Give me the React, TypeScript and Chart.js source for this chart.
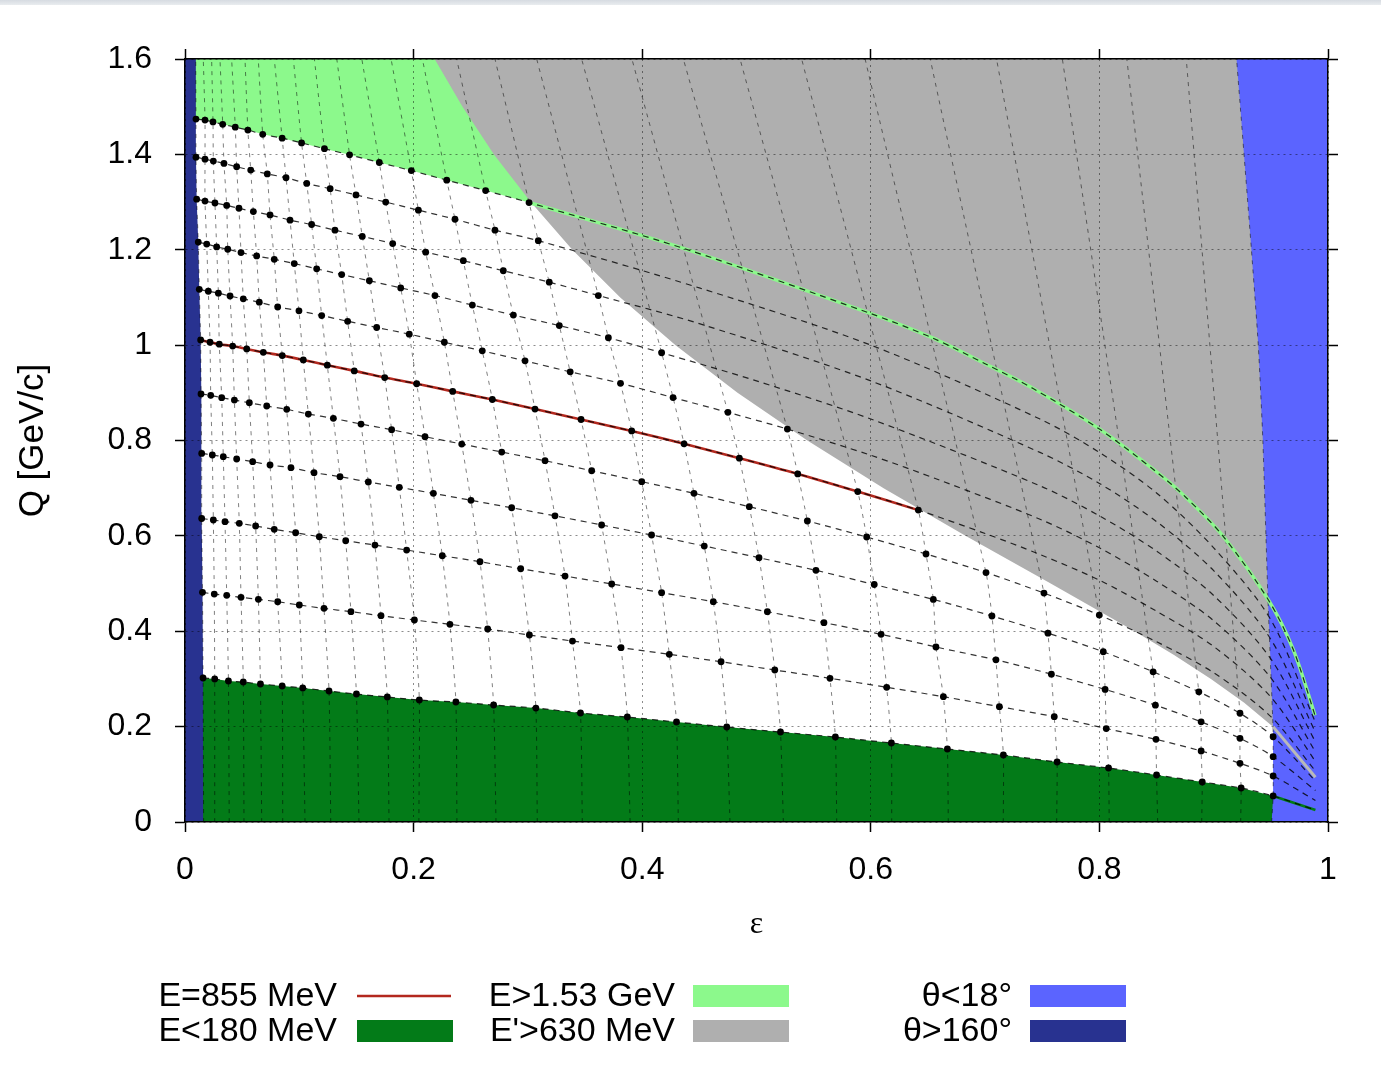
import React, { useEffect, useRef } from "react";
import { Chart, registerables } from "chart.js";

Chart.register(...registerables);

type Pt = [number, number];

// axis ticks
const X_TICKS = [0, 0.2, 0.4, 0.6, 0.8, 1];
const Y_TICKS = [0, 0.2, 0.4, 0.6, 0.8, 1, 1.2, 1.4, 1.6];

// Iso-energy curves: dots (ε, Q [GeV/c]) where each curve crosses the
// constant-angle lines (θ = 160°, 155°, … down to 18°).
const DOTS_180: Pt[] = [[0.0158,0.302],[0.026,0.2999],[0.038,0.2957],[0.051,0.2936],[0.066,0.2894],[0.085,0.2852],[0.103,0.281],[0.126,0.2747],[0.15,0.2684],[0.177,0.2621],[0.205,0.2558],[0.237,0.2516],[0.27,0.2453],[0.307,0.239],[0.346,0.2286],[0.387,0.2202],[0.43,0.2097],[0.474,0.1992],[0.521,0.1887],[0.569,0.1782],[0.618,0.1657],[0.667,0.1531],[0.716,0.1405],[0.763,0.1258],[0.808,0.1132],[0.85,0.0986],[0.89,0.0839],[0.924,0.0713],[0.952,0.0545]];
const DOTS_315: Pt[] = [[0.0153,0.4816],[0.0256,0.478],[0.0365,0.4753],[0.049,0.4711],[0.0642,0.4669],[0.0811,0.4619],[0.1,0.455],[0.1216,0.448],[0.1452,0.441],[0.1715,0.4326],[0.2007,0.4236],[0.2318,0.4145],[0.2648,0.4047],[0.3013,0.3921],[0.339,0.3795],[0.3815,0.3655],[0.4237,0.3516],[0.469,0.336],[0.516,0.3187],[0.5643,0.3013],[0.6139,0.2824],[0.6635,0.2628],[0.7125,0.2418],[0.7605,0.2208],[0.806,0.196],[0.8495,0.1733],[0.889,0.1489],[0.923,0.123],[0.952,0.0965]];
const DOTS_450: Pt[] = [[0.0146,0.6364],[0.0248,0.6333],[0.035,0.6298],[0.0475,0.6263],[0.0618,0.6207],[0.0781,0.6137],[0.0968,0.6066],[0.1175,0.5982],[0.1406,0.5898],[0.1662,0.5808],[0.1939,0.5703],[0.2251,0.5583],[0.2581,0.5457],[0.2937,0.5311],[0.3325,0.5158],[0.3733,0.4991],[0.417,0.4809],[0.4622,0.462],[0.5095,0.441],[0.559,0.418],[0.609,0.3935],[0.657,0.367],[0.7095,0.34],[0.758,0.31],[0.805,0.278],[0.849,0.245],[0.889,0.21],[0.923,0.1755],[0.952,0.137]];
const DOTS_585: Pt[] = [[0.0146,0.773],[0.0239,0.7696],[0.0335,0.766],[0.0452,0.7612],[0.0592,0.7556],[0.0744,0.7486],[0.0927,0.743],[0.1129,0.7326],[0.1356,0.7242],[0.1604,0.713],[0.1875,0.7018],[0.2173,0.6892],[0.2502,0.6746],[0.2858,0.659],[0.3237,0.642],[0.3645,0.6228],[0.4082,0.6018],[0.4543,0.5787],[0.5022,0.5542],[0.552,0.5277],[0.603,0.498],[0.6547,0.4668],[0.706,0.432],[0.755,0.396],[0.8034,0.357],[0.847,0.315],[0.887,0.273],[0.923,0.228],[0.952,0.179]];
const DOTS_720: Pt[] = [[0.014,0.8975],[0.0225,0.8947],[0.0321,0.8897],[0.0432,0.8848],[0.0563,0.8792],[0.0715,0.8723],[0.089,0.8653],[0.1079,0.8555],[0.1298,0.8464],[0.154,0.8345],[0.1808,0.8226],[0.21,0.8079],[0.2421,0.7926],[0.2771,0.7758],[0.315,0.7576],[0.3558,0.7366],[0.3996,0.7136],[0.4453,0.6892],[0.4937,0.6612],[0.5445,0.6312],[0.5964,0.5976],[0.6483,0.562],[0.7008,0.523],[0.7515,0.48],[0.7999,0.434]];
const DOTS_855: Pt[] = [[0.0137,1.011],[0.0219,1.006],[0.03,1.002],[0.0417,0.998],[0.054,0.992],[0.0685,0.985],[0.0851,0.978],[0.1035,0.969],[0.1245,0.958],[0.1481,0.946],[0.1747,0.932],[0.2027,0.919],[0.2342,0.903],[0.2689,0.886],[0.3062,0.866],[0.3465,0.844],[0.3908,0.82],[0.4366,0.793],[0.485,0.763],[0.5361,0.73],[0.5886,0.693],[0.6416,0.654]];
const DOTS_990: Pt[] = [[0.0125,1.117],[0.0204,1.113],[0.0292,1.109],[0.0394,1.103],[0.051,1.097],[0.065,1.09],[0.0811,1.08],[0.0997,1.072],[0.1196,1.062],[0.1423,1.05],[0.1677,1.037],[0.1962,1.023],[0.2269,1.006],[0.2601,0.988],[0.2975,0.967],[0.337,0.944],[0.381,0.92],[0.427,0.89],[0.475,0.859],[0.527,0.824]];
const DOTS_1125: Pt[] = [[0.0116,1.216],[0.019,1.212],[0.0277,1.206],[0.0374,1.201],[0.049,1.194],[0.0627,1.187],[0.0781,1.18],[0.0956,1.171],[0.1152,1.16],[0.1371,1.148],[0.1613,1.135],[0.1887,1.12],[0.2187,1.104],[0.2514,1.084],[0.2873,1.063],[0.3275,1.041],[0.3704,1.0155],[0.417,0.984]];
const DOTS_1260: Pt[] = [[0.0102,1.306],[0.0175,1.302],[0.0262,1.298],[0.0365,1.293],[0.0472,1.287],[0.0598,1.28],[0.0744,1.273],[0.0919,1.262],[0.1108,1.253],[0.1312,1.241],[0.1551,1.228],[0.1817,1.213],[0.2106,1.195],[0.2435,1.177],[0.2785,1.156],[0.3187,1.132],[0.3616,1.104]];
const DOTS_1395: Pt[] = [[0.0096,1.394],[0.0175,1.39],[0.0248,1.386],[0.0341,1.381],[0.0452,1.374],[0.0575,1.367],[0.072,1.359],[0.0884,1.351],[0.1065,1.339],[0.127,1.328],[0.1496,1.315],[0.1756,1.3],[0.2042,1.283],[0.2362,1.264],[0.2712,1.241],[0.3091,1.219]];
const DOTS_1530: Pt[] = [[0.0096,1.474],[0.0175,1.472],[0.0245,1.468],[0.033,1.463],[0.044,1.457],[0.055,1.451],[0.068,1.442],[0.085,1.434],[0.102,1.424],[0.122,1.412],[0.144,1.399],[0.17,1.383],[0.198,1.366],[0.229,1.346],[0.263,1.324],[0.301,1.299]];

// continuation of each curve past its last dot (through the E' and θ<18° zones)
const TAIL_180: Pt[] = [[0.989,0.025]];
const TAIL_315: Pt[] = [[0.989,0.045]];
const TAIL_450: Pt[] = [[0.989,0.066]];
const TAIL_585: Pt[] = [[0.989,0.086]];
const TAIL_720: Pt[] = [[0.85,0.378],[0.9,0.313],[0.95,0.221],[0.989,0.107]];
const TAIL_855: Pt[] = [[0.7,0.605],[0.748,0.561],[0.8,0.507],[0.85,0.442],[0.9,0.368],[0.95,0.262],[0.989,0.127]];
const TAIL_990: Pt[] = [[0.6,0.769],[0.66,0.717],[0.748,0.635],[0.8,0.575],[0.85,0.505],[0.9,0.422],[0.95,0.302],[0.989,0.147]];
const TAIL_1125: Pt[] = [[0.5,0.925],[0.6,0.845],[0.748,0.705],[0.8,0.642],[0.85,0.568],[0.9,0.475],[0.95,0.342],[0.989,0.168]];
const TAIL_1260: Pt[] = [[0.45,1.045],[0.6,0.925],[0.748,0.775],[0.8,0.71],[0.85,0.63],[0.9,0.527],[0.95,0.383],[0.989,0.188]];
const TAIL_1395: Pt[] = [[0.45,1.12],[0.6,1.0],[0.748,0.845],[0.8,0.775],[0.85,0.69],[0.9,0.575],[0.95,0.424],[0.989,0.209]];
const TAIL_1530: Pt[] = [[0.436,1.203],[0.599,1.067],[0.654,1.015],[0.7,0.961],[0.742,0.909],[0.8,0.824],[0.85,0.734],[0.876,0.68],[0.908,0.6],[0.948,0.465],[0.9697,0.361],[0.9886,0.224]];

// constant-angle lines: ε where they meet Q = 0 and Q = 1.6 (θ = 155° … 25°)
const BOTTOM_EPS = [0.026,0.0387,0.0516,0.0671,0.0855,0.105,0.1275,0.1522,0.1785,0.2046,0.2379,0.2721,0.3082,0.3476,0.3894,0.4316,0.4768,0.5235,0.5702,0.6183,0.6678,0.7159,0.7626,0.8086,0.851,0.8895,0.9236];
const TOP_EPS = [0.016,0.0233,0.0306,0.0408,0.0525,0.0641,0.0781,0.0948,0.1132,0.1328,0.1547,0.1803,0.2077,0.2377,0.2712,0.3077,0.347,0.391,0.436,0.4856,0.5395,0.595,0.652,0.71,0.7676,0.824,0.876];

// zone boundaries
const NAVY_EDGE: Pt[] = [[0.0163,0],[0.0158,0.302],[0.0153,0.4816],[0.0146,0.6364],[0.0146,0.773],[0.014,0.8975],[0.0137,1.011],[0.0125,1.117],[0.0116,1.216],[0.0102,1.306],[0.0096,1.394],[0.0096,1.474],[0.0094,1.6]];
const BLUE_EDGE: Pt[] = [[0.9507,0],[0.952,0.0545],[0.952,0.179],[0.9519,0.2],[0.9475,0.465],[0.943,0.8],[0.939,1.0],[0.933,1.2],[0.92,1.6]];
const GRAY_EDGE: Pt[] = [[0.2184,1.6],[0.2428,1.5],[0.2703,1.4],[0.3025,1.3],[0.3389,1.2],[0.3808,1.1],[0.4292,1.0],[0.4834,0.9],[0.5445,0.8],[0.6112,0.7],[0.6832,0.6],[0.7574,0.5],[0.8308,0.4],[0.8653,0.35],[0.8976,0.3],[0.9267,0.25],[0.9519,0.2]];
const EPRIME_LINE: Pt[] = [[0.9519,0.2],[0.989,0.094]];

const GREEN = "#8cf98c";
const GRAY = "#afafaf";
const DARK_GREEN = "#037b18";
const BLUE = "#5b64ff";
const NAVY = "#283290";
const RED = "#b3281e";

const LEGEND = [
  { label: "E=855 MeV", kind: "line", color: RED, col: 0, row: 0 },
  { label: "E<180 MeV", kind: "box", color: DARK_GREEN, col: 0, row: 1 },
  { label: "E>1.53 GeV", kind: "box", color: GREEN, col: 1, row: 0 },
  { label: "E'>630 MeV", kind: "box", color: GRAY, col: 1, row: 1 },
  { label: "θ<18°", kind: "box", color: BLUE, col: 2, row: 0 },
  { label: "θ>160°", kind: "box", color: NAVY, col: 2, row: 1 },
];

const CURVES: { dots: Pt[]; tail: Pt[] }[] = [
  { dots: DOTS_180, tail: TAIL_180 },
  { dots: DOTS_315, tail: TAIL_315 },
  { dots: DOTS_450, tail: TAIL_450 },
  { dots: DOTS_585, tail: TAIL_585 },
  { dots: DOTS_720, tail: TAIL_720 },
  { dots: DOTS_855, tail: TAIL_855 },
  { dots: DOTS_990, tail: TAIL_990 },
  { dots: DOTS_1125, tail: TAIL_1125 },
  { dots: DOTS_1260, tail: TAIL_1260 },
  { dots: DOTS_1395, tail: TAIL_1395 },
  { dots: DOTS_1530, tail: TAIL_1530 },
];

const xy = (pts: Pt[]) => pts.map(([x, y]) => ({ x, y }));

const FONT = "Liberation Sans";

const legendPlugin = {
  id: "keyBox",
  afterDraw(chart: any) {
    const ctx = chart.ctx as CanvasRenderingContext2D;
    const textRight = [337, 675, 1012];
    const sampleLeft = [357, 693, 1030];
    const sampleW = 96;
    const rowY = [996, 1031];
    ctx.save();
    ctx.font = `34px "${FONT}"`;
    ctx.textAlign = "right";
    ctx.textBaseline = "middle";
    for (const item of LEGEND) {
      const y = rowY[item.row];
      ctx.fillStyle = "#000";
      ctx.fillText(item.label, textRight[item.col], y + 1);
      if (item.kind === "line") {
        ctx.strokeStyle = item.color;
        ctx.lineWidth = 2.5;
        ctx.beginPath();
        ctx.moveTo(sampleLeft[item.col], y);
        ctx.lineTo(sampleLeft[item.col] + sampleW - 2, y);
        ctx.stroke();
      } else {
        ctx.fillStyle = item.color;
        ctx.fillRect(sampleLeft[item.col], y - 11, sampleW, 22);
      }
    }
    ctx.restore();
  },
};

export default function App() {
  const canvasRef = useRef<HTMLCanvasElement | null>(null);

  useEffect(() => {
    const canvas = canvasRef.current;
    if (!canvas) return;

    // constant-angle lines through the dots they carry
    const thetaLines: Pt[][] = [NAVY_EDGE];
    for (let j = 1; j <= BOTTOM_EPS.length; j++) {
      const pts: Pt[] = [[BOTTOM_EPS[j - 1], 0]];
      CURVES.forEach((c) => {
        if (c.dots[j]) pts.push(c.dots[j]);
      });
      pts.push([TOP_EPS[j - 1], 1.6]);
      thetaLines.push(pts);
    }
    thetaLines.push(BLUE_EDGE);

    const ds: any[] = [];
    const area = (pts: Pt[], color: string) => ({
      data: xy(pts),
      fill: "shape",
      backgroundColor: color,
      borderWidth: 0,
      pointRadius: 0,
      tension: 0,
    });
    const line = (pts: Pt[], color: string, width: number, dash: number[], tension = 0.3) => ({
      data: xy(pts),
      fill: false,
      borderColor: color,
      borderWidth: width,
      borderDash: dash,
      pointRadius: 0,
      tension,
    });

    const top = DOTS_1530.concat(TAIL_1530);
    ds.push(area([[0, 1.6], [0, DOTS_1530[0][1]], ...top, [1, TAIL_1530[TAIL_1530.length - 1][1]], [1, 1.6]], GREEN));
    ds.push(area([...GRAY_EDGE, [1, 0.2], [1, 1.6]], GRAY));
    ds.push(area([[0, 0], [0, DOTS_180[0][1]], ...DOTS_180, ...TAIL_180, [1, TAIL_180[0][1]], [1, 0]], DARK_GREEN));
    ds.push(area([...BLUE_EDGE, [1, 1.6], [1, 0]], BLUE));
    ds.push(area([[0, 0], ...NAVY_EDGE, [0, 1.6]], NAVY));

    thetaLines.forEach((pts) => ds.push(line(pts, "rgba(0,0,0,0.5)", 1, [4, 5], 0.2)));

    // highlighted curves
    ds.push(line([DOTS_1530[DOTS_1530.length - 1], ...TAIL_1530], GREEN, 3.5, []));
    ds.push(line(DOTS_855, RED, 2.6, []));
    ds.push(line([DOTS_180[DOTS_180.length - 1], ...TAIL_180], DARK_GREEN, 2.6, []));
    ds.push(line(EPRIME_LINE, "#b9b9b9", 3, [], 0));

    CURVES.forEach((c) => ds.push(line(c.dots.concat(c.tail), "rgba(0,0,0,0.8)", 1.2, [6, 5])));

    CURVES.forEach((c) =>
      ds.push({
        data: xy(c.dots),
        showLine: false,
        pointRadius: 3.4,
        pointBackgroundColor: "#000",
        pointBorderWidth: 0,
      })
    );

    // first pushed is drawn first
    ds.forEach((d, i) => (d.order = ds.length - i));

    const tickFont = { family: FONT, size: 32 };

    const chart = new Chart(canvas, {
      type: "line",
      data: { datasets: ds },
      options: {
        responsive: false,
        animation: false,
        events: [],
        layout: { padding: { left: 8, top: 59, right: 53, bottom: 121 } },
        plugins: { legend: { display: false }, tooltip: { enabled: false } },
        scales: {
          x: {
            type: "linear",
            position: "bottom",
            min: 0,
            max: 1,
            afterBuildTicks: (s: any) => { s.ticks = X_TICKS.map((value) => ({ value })); },
            afterFit: (s: any) => { s.height = 140; },
            ticks: { font: tickFont, color: "#000", padding: 19, maxRotation: 0, callback: (v: any) => String(v) },
            grid: { display: true, z: 1, color: "rgba(0,0,0,0.45)", lineWidth: 1, drawTicks: true, tickLength: 10, tickColor: "#000", tickWidth: 1.5 },
            border: { display: true, color: "#000", width: 1.5, dash: [2, 4], z: 2 },
            title: { display: true, text: "ε", font: { family: "Liberation Serif", size: 32 }, color: "#000", padding: { top: 0, bottom: 17.8 } },
          },
          y: {
            type: "linear",
            position: "left",
            min: 0,
            max: 1.6,
            afterBuildTicks: (s: any) => { s.ticks = Y_TICKS.map((value) => ({ value })); },
            afterFit: (s: any) => { s.width = 177; },
            ticks: { font: tickFont, color: "#000", padding: 23, callback: (v: any) => String(v) },
            grid: { display: true, z: 1, color: "rgba(0,0,0,0.45)", lineWidth: 1, drawTicks: true, tickLength: 10, tickColor: "#000", tickWidth: 1.5 },
            border: { display: true, color: "#000", width: 1.5, dash: [2, 4], z: 2 },
            title: { display: true, text: "Q [GeV/c]", font: { family: FONT, size: 35 }, color: "#000", padding: { top: 4, bottom: 0 } },
          },
          x2: {
            type: "linear",
            position: "top",
            min: 0,
            max: 1,
            afterBuildTicks: (s: any) => { s.ticks = X_TICKS.map((value) => ({ value })); },
            afterFit: (s: any) => { s.height = 0; },
            ticks: { display: false },
            grid: { display: true, drawOnChartArea: false, drawTicks: true, tickLength: 10, tickColor: "#000", tickWidth: 1.5 },
            border: { display: true, color: "#000", width: 1.5, z: 2 },
          },
          y2: {
            type: "linear",
            position: "right",
            min: 0,
            max: 1.6,
            afterBuildTicks: (s: any) => { s.ticks = Y_TICKS.map((value) => ({ value })); },
            afterFit: (s: any) => { s.width = 0; },
            ticks: { display: false },
            grid: { display: true, drawOnChartArea: false, drawTicks: true, tickLength: 10, tickColor: "#000", tickWidth: 1.5 },
            border: { display: true, color: "#000", width: 1.5, z: 2 },
          },
        },
      } as any,
      plugins: [legendPlugin],
    });

    return () => chart.destroy();
  }, []);

  return (
    <div style={{ position: "fixed", left: 0, top: 0, width: 1381, height: 1083, background: "#fff", overflow: "hidden" }}>
      <div style={{ position: "absolute", left: 0, top: 0, width: 1381, height: 5, background: "linear-gradient(#d6dbe1, #e9ecef)" }} />
      <canvas ref={canvasRef} width={1381} height={1083} style={{ position: "absolute", left: 0, top: 0 }} />
    </div>
  );
}
